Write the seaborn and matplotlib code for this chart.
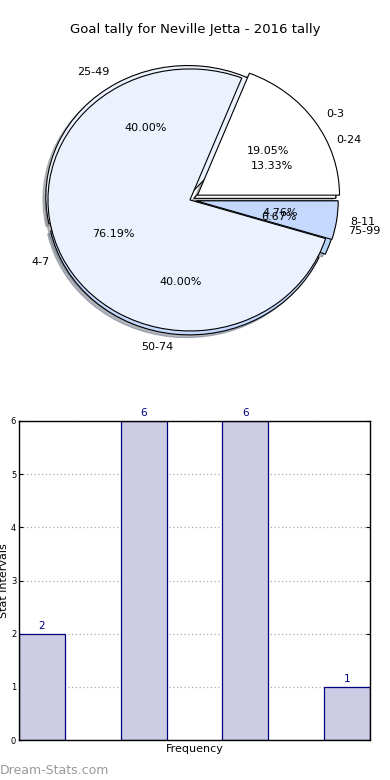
import matplotlib
matplotlib.use("Agg")
import matplotlib.pyplot as plt
import seaborn as sns
import pandas as pd

# ---- data ----
title = "Goal tally for Neville Jetta - 2016 tally"
pie1_labels = ["0-3", "4-7", "8-11"]
pie1_values = [4, 16, 1]
pie2_labels = ["0-24", "25-49", "50-74", "75-99"]
pie2_values = [2, 6, 6, 1]
bar_values = [2, 6, 6, 1]
bar_cats = ["0-24", "25-49", "50-74", "75-99"]

sns.set_style("white")
plt.rcParams["font.family"] = ["DejaVu Sans"]
plt.rcParams["text.color"] = "black"
plt.rcParams["axes.labelcolor"] = "black"
plt.rcParams["xtick.color"] = "black"
plt.rcParams["ytick.color"] = "black"

pie_colors = ["#ffffff", "#ebf1fd", "#c5d8fd", "#b4d3f5"]

fig = plt.figure(figsize=(3.9, 7.8), dpi=100)

# ---- pie section ----
axp = fig.add_axes([0.032, 0.5337, 0.910, 0.4199])
wp = dict(edgecolor="black", linewidth=0.8)
tp = dict(fontsize=8, color="black")
sh = {"ox": -0.015, "oy": -0.015, "shade": 0.5}
axp.pie(pie2_values, labels=pie2_labels, colors=pie_colors[:4],
        explode=[0.03, 0.03, 0.03, 0.04], autopct="%.2f%%", shadow=sh,
        startangle=0, wedgeprops=wp, textprops=tp)
axp.pie(pie1_values, labels=pie1_labels, colors=pie_colors[:3],
        explode=[0.065, 0.0, 0.045], autopct="%.2f%%", shadow=sh,
        startangle=0, wedgeprops=wp, textprops=tp)
axp.set_aspect("auto")
axp.set_xlim(-1.25, 1.25)
axp.set_ylim(-1.25, 1.25)
axp.axis("off")

fig.text(0.5, 1 - 30 / 780, title, ha="center", va="center", fontsize=9.5,
         color="black")

# ---- bar section ----
axb = fig.add_axes([19 / 390, 40 / 780, 351 / 390, 319 / 780])
df = pd.DataFrame({"cat": bar_cats, "val": bar_values})
sns.barplot(data=df, x="cat", y="val", ax=axb, color="#cccce4",
            edgecolor="#000080", linewidth=0.9, width=0.45, saturation=1)
for c in axb.containers:
    axb.bar_label(c, padding=2, color="#000080", fontsize=7.5)
w = 0.45
axb.set_xlim(-w / 2, len(bar_values) - 1 + w / 2)
axb.set_ylim(0, 6)
axb.set_yticks(range(0, 7))
axb.set_xticks([])
axb.yaxis.grid(True, linestyle=(0, (1, 2)), color="#aaaaaa", linewidth=0.9)
axb.set_axisbelow(True)
axb.tick_params(axis="y", labelsize=6, length=3, direction="in",
                left=True, right=True, pad=2)
for s in axb.spines.values():
    s.set_color("black")
    s.set_linewidth(1.0)
axb.set_ylabel("Stat intervals", fontsize=8, labelpad=1)
axb.set_xlabel("Frequency", fontsize=8, labelpad=3)

fig.text(0.0, 1 - 770 / 780, "Dream-Stats.com", ha="left", va="center",
         fontsize=9, color="#999999")

fig.savefig("out.png", dpi=100)
